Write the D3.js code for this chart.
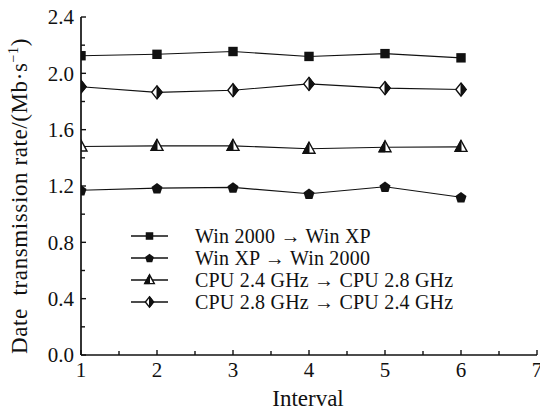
<!DOCTYPE html>
<html><head><meta charset="utf-8">
<script src="https://cdn.jsdelivr.net/npm/d3@7"></script>
<style>body{margin:0;background:#fff}svg{display:block}text{font-family:"Liberation Serif","Times New Roman",serif;fill:#111}</style>
</head><body><svg id="c" width="540" height="413"></svg>
<script>
const intervals = [1, 2, 3, 4, 5, 6];
const win2000ToXP = [2.125, 2.135, 2.155, 2.12, 2.14, 2.11];
const winXPTo2000 = [1.17, 1.185, 1.19, 1.145, 1.195, 1.12];
const cpu24To28 = [1.48, 1.485, 1.485, 1.465, 1.475, 1.478];
const cpu28To24 = [1.905, 1.865, 1.88, 1.925, 1.895, 1.885];
const seriesNames = ["Win 2000 \u2192 Win XP", "Win XP \u2192 Win 2000", "CPU 2.4 GHz \u2192 CPU 2.8 GHz", "CPU 2.8 GHz \u2192 CPU 2.4 GHz"];
const seriesMarkers = ["square", "pentagon", "triangle", "diamond"];
const xTicks = [1, 2, 3, 4, 5, 6, 7];
const yTicks = [0.0, 0.4, 0.8, 1.2, 1.6, 2.0, 2.4];
const xLabel = "Interval";
const yLabel = "Date  transmission rate/(Mb\u00b7s";

const series = [win2000ToXP, winXPTo2000, cpu24To28, cpu28To24].map((v, i) => ({name: seriesNames[i], marker: seriesMarkers[i], values: v}));

const svg = d3.select("#c");
const L = 81, R = 537, T = 17, B = 355;
const x = d3.scaleLinear().domain([1, 7]).range([L, R]);
const y = d3.scaleLinear().domain([0, 2.4]).range([B, T]);

svg.append("defs").append("clipPath").attr("id", "clip")
  .append("rect").attr("x", L).attr("y", 0).attr("width", 540 - L).attr("height", 413);

function drawMarker(g, type, s) {
  if (type === "square") {
    g.append("rect").attr("x", -4.7 * s).attr("y", -4.7 * s).attr("width", 9.4 * s).attr("height", 9.4 * s).attr("fill", "#111");
  } else if (type === "pentagon") {
    const r = 5.8 * s;
    const pts = d3.range(5).map(k => { const a = -Math.PI / 2 + k * 2 * Math.PI / 5; return [r * Math.cos(a), r * Math.sin(a) + 0.6 * s]; });
    g.append("polygon").attr("points", pts.map(p => p.join(",")).join(" ")).attr("fill", "#111");
  } else if (type === "triangle") {
    const tp = [[0, -6.5 * s], [-6 * s, 4.5 * s], [6 * s, 4.5 * s]];
    g.append("polygon").attr("points", tp.map(p => p.join(",")).join(" ")).attr("fill", "#fff").attr("stroke", "#111").attr("stroke-width", 1.4);
    g.append("polygon").attr("points", [[0, -6.5 * s], [-6 * s, 4.5 * s], [0, 4.5 * s]].map(p => p.join(",")).join(" ")).attr("fill", "#111").attr("stroke", "#111").attr("stroke-width", 1);
  } else if (type === "diamond") {
    const dp = [[0, -6.5 * s], [5.2 * s, 0], [0, 6.5 * s], [-5.2 * s, 0]];
    g.append("polygon").attr("points", dp.map(p => p.join(",")).join(" ")).attr("fill", "#fff").attr("stroke", "#111").attr("stroke-width", 1.4);
    g.append("polygon").attr("points", [[0, -6.5 * s], [5.2 * s, 0], [0, 6.5 * s]].map(p => p.join(",")).join(" ")).attr("fill", "#111").attr("stroke", "#111").attr("stroke-width", 1);
  }
}

const plot = svg.append("g").attr("clip-path", "url(#clip)");
const line = d3.line().x((d, i) => x(intervals[i])).y(d => y(d));
series.forEach(s => {
  plot.append("path").attr("d", line(s.values)).attr("fill", "none").attr("stroke", "#111").attr("stroke-width", 1.1);
  s.values.forEach((v, i) => {
    const g = plot.append("g").attr("transform", `translate(${x(intervals[i])},${y(v)})`);
    drawMarker(g, s.marker, 1);
  });
});

const FS = 21;
const yMinor = d3.range(0.2, 2.4, 0.4);
const xMinor = d3.range(1.5, 7, 1);
const ax = svg.append("g");
ax.append("line").attr("x1", L).attr("x2", L).attr("y1", T).attr("y2", B).attr("stroke", "#111").attr("stroke-width", 1.7);
ax.append("line").attr("x1", L).attr("x2", R).attr("y1", B).attr("y2", B).attr("stroke", "#111").attr("stroke-width", 1.7);
yTicks.forEach(t => {
  ax.append("line").attr("x1", L).attr("x2", L + 5).attr("y1", y(t)).attr("y2", y(t)).attr("stroke", "#111").attr("stroke-width", 1.4);
  ax.append("text").attr("x", L - 7).attr("y", y(t)).attr("dy", "0.35em").attr("text-anchor", "end").attr("font-size", FS).text(t.toFixed(1));
});
yMinor.forEach(t => ax.append("line").attr("x1", L).attr("x2", L + 4).attr("y1", y(t)).attr("y2", y(t)).attr("stroke", "#111").attr("stroke-width", 1.4));
xTicks.forEach(t => {
  ax.append("line").attr("x1", x(t)).attr("x2", x(t)).attr("y1", B).attr("y2", B - 5).attr("stroke", "#111").attr("stroke-width", 1.4);
  ax.append("text").attr("x", x(t)).attr("y", B + 22).attr("text-anchor", "middle").attr("font-size", FS).text(t);
});
xMinor.forEach(t => ax.append("line").attr("x1", x(t)).attr("x2", x(t)).attr("y1", B).attr("y2", B - 4).attr("stroke", "#111").attr("stroke-width", 1.4));

svg.append("text").attr("x", 308).attr("y", 406).attr("text-anchor", "middle").attr("font-size", 23).text(xLabel);
const yt = svg.append("text").attr("transform", `translate(27,196) rotate(-90)`).attr("text-anchor", "middle").attr("font-size", 23).attr("letter-spacing", 0.6).style("white-space", "pre");
yt.append("tspan").text(yLabel);
yt.append("tspan").attr("font-size", 14).attr("dy", -9).text("\u22121");
yt.append("tspan").attr("dy", 9).text(")");

const lg = svg.append("g");
series.forEach((s, i) => {
  const ly = 236 + i * 22;
  lg.append("line").attr("x1", 131).attr("x2", 168).attr("y1", ly).attr("y2", ly).attr("stroke", "#111").attr("stroke-width", 1.5);
  const g = lg.append("g").attr("transform", `translate(149.5,${ly})`);
  drawMarker(g, s.marker, 0.8);
  lg.append("text").attr("x", 195).attr("y", ly).attr("dy", "0.35em").attr("font-size", 20).attr("letter-spacing", 0.2).text(s.name);
});
</script></body></html>
